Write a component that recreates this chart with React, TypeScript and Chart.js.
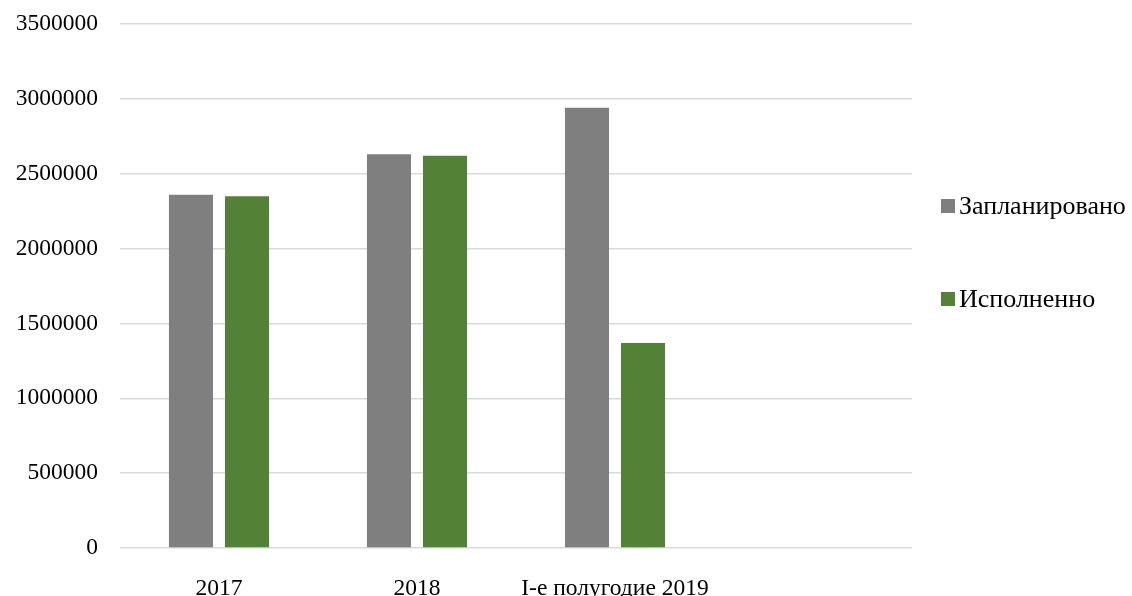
import React, { useEffect, useRef } from "react";
import { Chart, registerables } from "chart.js";

Chart.register(...registerables);

const categories = ["2017", "2018", "I-е полугодие 2019", ""];
const planned = [2360000, 2630000, 2940000, null];
const executed = [2350000, 2620000, 1370000, null];
const seriesNames = ["Запланировано", "Исполненно"];
const seriesColors = ["#7f7f7f", "#538135"];
const yMax = 3500000;
const yStep = 500000;

const FONT = "'Liberation Serif', 'Times New Roman', serif";

export default function App() {
  const ref = useRef<HTMLCanvasElement | null>(null);

  useEffect(() => {
    document.body.style.margin = "0";
    const canvas = ref.current;
    if (!canvas) return;
    const chart = new Chart(canvas, {
      type: "bar",
      data: {
        labels: categories,
        datasets: [
          {
            label: seriesNames[0],
            data: planned,
            backgroundColor: seriesColors[0],
            barPercentage: 0.786,
            categoryPercentage: 0.566,
          },
          {
            label: seriesNames[1],
            data: executed,
            backgroundColor: seriesColors[1],
            barPercentage: 0.786,
            categoryPercentage: 0.566,
          },
        ],
      },
      options: {
        responsive: false,
        maintainAspectRatio: false,
        animation: false,
        layout: { padding: { left: 0, right: 220, top: 24, bottom: 0 } },
        plugins: {
          legend: { display: false },
          tooltip: { enabled: false },
        },
        scales: {
          x: {
            grid: { display: false },
            border: { display: false },
            ticks: {
              color: "#000",
              font: { family: FONT, size: 23.5 },
              padding: 19,
              maxRotation: 0,
              autoSkip: false,
            },
            afterFit: (s: any) => {
              s.height = 48;
              s.paddingLeft = 0;
              s.paddingRight = 0;
            },
          },
          y: {
            min: 0,
            max: yMax,
            grid: { color: "#d9d9d9", lineWidth: 1.5, drawTicks: false },
            border: { display: false },
            ticks: {
              stepSize: yStep,
              color: "#000",
              font: { family: FONT, size: 23.5 },
              padding: 22,
              callback: (v: any) => String(v),
            },
            afterFit: (s: any) => {
              s.width = 120;
              s.paddingTop = 0;
              s.paddingBottom = 0;
            },
          },
        },
      },
    });
    return () => chart.destroy();
  }, []);

  const legendCenters = [206, 299];

  return (
    <div style={{ position: "fixed", left: 0, top: 0, width: 1132, height: 596, background: "#fff" }}>
      <canvas ref={ref} width={1132} height={596} style={{ display: "block" }} />
      {seriesNames.map((name, i) => (
        <div
          key={name}
          style={{
            position: "absolute",
            left: 941,
            top: legendCenters[i] - 16,
            height: 32,
            display: "flex",
            alignItems: "center",
            fontFamily: FONT,
            fontSize: 26,
            color: "#000",
            whiteSpace: "nowrap",
          }}
        >
          <span
            style={{
              display: "inline-block",
              width: 14,
              height: 14,
              background: seriesColors[i],
              marginRight: 4,
            }}
          />
          {name}
        </div>
      ))}
    </div>
  );
}
